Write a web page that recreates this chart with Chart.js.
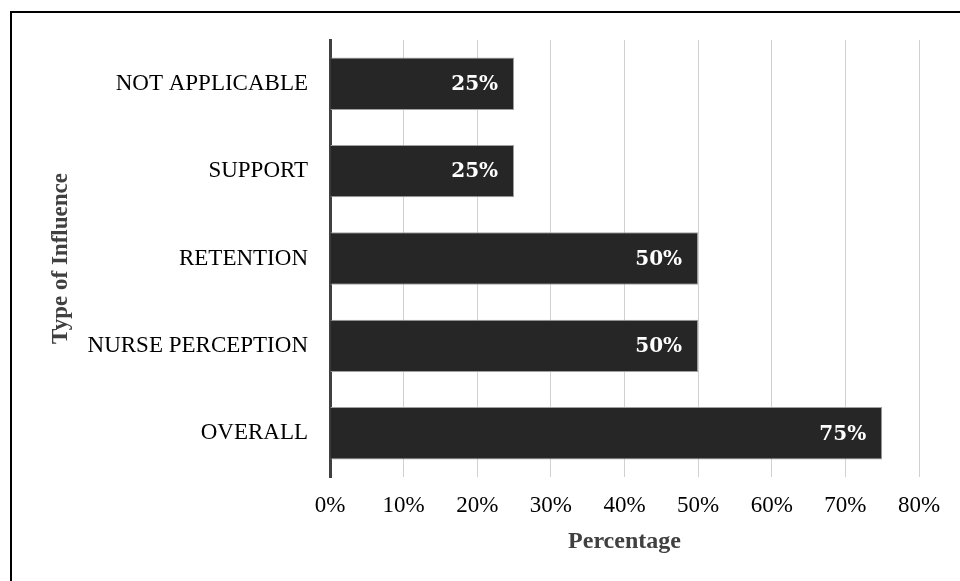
<!DOCTYPE html>
<html>
<head>
<meta charset="utf-8">
<script src="https://cdn.jsdelivr.net/npm/chart.js@4/dist/chart.umd.min.js"></script>
<style>
  body { margin: 0; background: #fff; }
  #wrap { position: relative; width: 960px; height: 581px; overflow: hidden; }
  #frame { position: absolute; left: 10px; top: 11px; width: 1000px; height: 700px;
           border-top: 2px solid #000; border-left: 2px solid #000; }
  canvas { position: absolute; left: 0; top: 0; }
</style>
</head>
<body>
<div id="wrap">
  <div id="frame"></div>
  <canvas id="chart1" width="960" height="581"></canvas>
</div>
<script>
const categories = ['NOT APPLICABLE', 'SUPPORT', 'RETENTION', 'NURSE PERCEPTION', 'OVERALL'];
const percentages = [25, 25, 50, 50, 75];
const tickValues = [0, 10, 20, 30, 40, 50, 60, 70, 80];

// white value labels at the inner end of each bar
const valueLabels = {
    id: 'valueLabels',
    afterDraw(chart) {
        const ctx = chart.ctx;
        const meta = chart.getDatasetMeta(0);
        ctx.save();
        ctx.font = "bold 20px 'DejaVu Serif'";
        ctx.fillStyle = '#ffffff';
        ctx.textAlign = 'right';
        ctx.textBaseline = 'middle';
        meta.data.forEach((bar, i) => {
            ctx.fillText(percentages[i] + '%', bar.x - 16, bar.y + 1);
        });
        ctx.restore();
    }
};

const config = {
    type: 'bar',
    data: {
        labels: categories,
        datasets: [{
            data: percentages,
            backgroundColor: '#262626',
            borderColor: '#a0a0a0',
            borderWidth: 1,
            barPercentage: 0.6,
            categoryPercentage: 1.0
        }]
    },
    options: {
        indexAxis: 'y',
        responsive: false,
        animation: false,
        layout: {
            padding: { top: 40, right: 41, bottom: 0, left: 0 }
        },
        plugins: {
            legend: { display: false },
            tooltip: { enabled: false }
        },
        scales: {
            x: {
                min: 0,
                max: 80,
                z: 1,
                afterFit: (scale) => { scale.height = 104; },
                afterBuildTicks: (scale) => { scale.ticks = tickValues.map(v => ({ value: v })); },
                grid: {
                    color: 'rgba(0,0,0,0.18)',
                    lineWidth: 1,
                    drawTicks: false
                },
                border: { display: false },
                ticks: {
                    padding: 15,
                    color: '#000',
                    font: { family: "'Liberation Serif', 'Times New Roman', serif", size: 23 },
                    callback: (v) => v + '%'
                },
                title: {
                    display: true,
                    text: 'Percentage',
                    color: '#404040',
                    padding: { top: 0, bottom: 25 },
                    font: { family: "'Liberation Serif', 'Times New Roman', serif", size: 24, weight: 'bold' }
                }
            },
            y: {
                z: 1,
                afterFit: (scale) => { scale.width = 330; },
                grid: { display: false },
                border: { display: true, color: '#404040', width: 3 },
                ticks: {
                    padding: 14,
                    color: '#000',
                    font: { family: "'Liberation Serif', 'Times New Roman', serif", size: 23 }
                },
                title: {
                    display: true,
                    text: 'Type of Influence',
                    color: '#404040',
                    padding: { top: 47, bottom: 0 },
                    font: { family: "'Liberation Serif', 'Times New Roman', serif", size: 23, weight: 'bold' }
                }
            }
        }
    },
    plugins: [valueLabels]
};

const ctx1 = document.getElementById('chart1').getContext('2d');
const chart1 = new Chart(ctx1, config);
</script>
</body>
</html>
